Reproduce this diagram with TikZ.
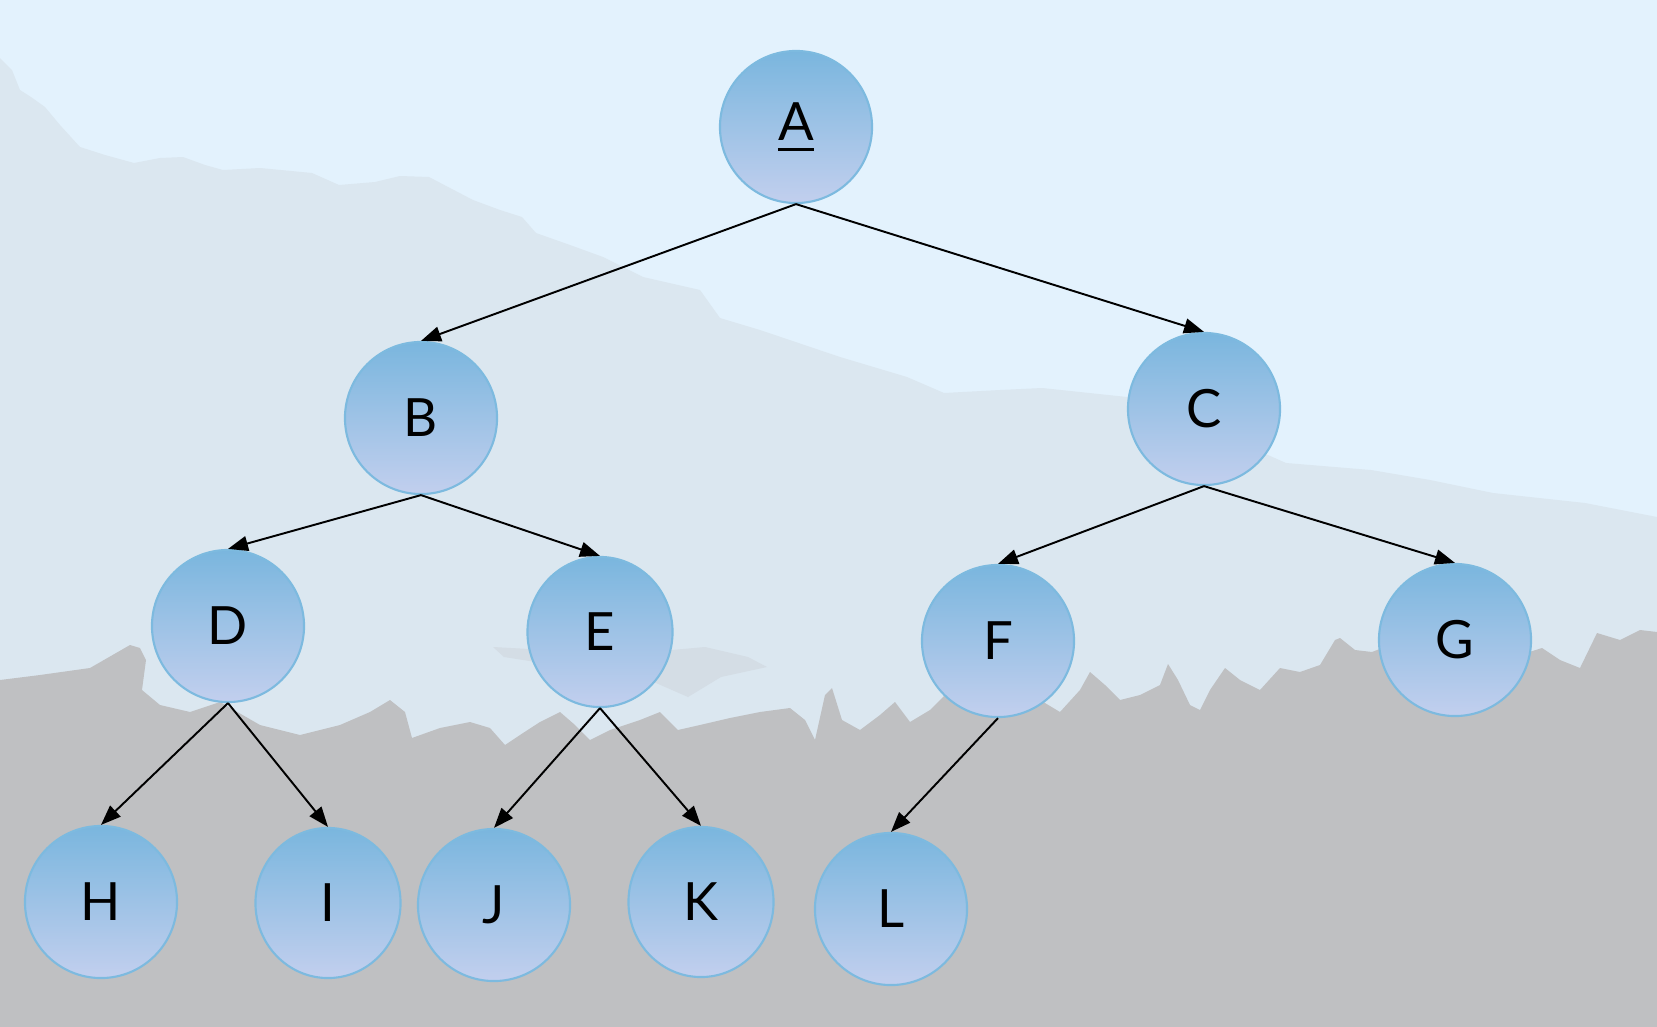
\documentclass[tikz,border=0pt]{standalone}
\usepackage{fontspec}
\setmainfont{Lato}
\usetikzlibrary{arrows.meta,shapes.geometric}
\definecolor{sky}{RGB}{227,242,253}
\definecolor{hill}{RGB}{219,231,240}
\definecolor{haze}{RGB}{212,221,229}
\definecolor{ground}{RGB}{191,192,194}
\definecolor{nodetop}{RGB}{122,182,222}
\definecolor{nodebot}{RGB}{194,207,238}
\definecolor{nodeline}{RGB}{125,186,223}
\newcommand{\rootmark}[1]{\ooalign{#1\cr\hidewidth\rule[-0.105cm]{0.36cm}{0.03cm}\hidewidth\cr}}
\begin{document}
\begin{tikzpicture}[x=0.01cm,y=-0.01cm,semithick,
  state/.style={draw=nodeline,line width=0.6pt,shape=ellipse,inner sep=0pt,minimum width=1.52cm,minimum height=1.52cm,top color=nodetop,bottom color=nodebot,font=\fontsize{15}{18}\selectfont},
  slim/.style={state,minimum width=1.45cm,minimum height=1.5cm},
  arr/.style={-{Triangle[length=0.2cm,width=0.15cm]},line width=0.55pt}]

\useasboundingbox (0,0) rectangle (1657,1027);

%background
\fill[sky] (0,0) rectangle (1657,1027);
\fill[hill] (0,58) -- (12,70) -- (20,90) -- (31,97) -- (45,107) -- (60,125) -- (80,147) -- (105,155) -- (134,163) -- (160,158) -- (183,157) -- (205,165) -- (223,170) -- (260,168) -- (312,173) -- (339,185) -- (375,182) -- (400,176) -- (429,177) -- (450,188) -- (473,200) -- (500,210) -- (522,217) -- (536,233) -- (570,245) -- (603,257) -- (643,277) -- (700,290) -- (720,318) -- (760,330) -- (840,357) -- (907,377) -- (944,393) -- (1000,390) -- (1042,388) -- (1127,397) -- (1200,425) -- (1286,463) -- (1371,470) -- (1430,480) -- (1493,493) -- (1585,503) -- (1657,517) -- (1657,1027) -- (0,1027) -- cycle;
\fill[haze] (493,647) -- (547,650) -- (600,655) -- (672,650) -- (705,647) -- (748,657) -- (767,667) -- (721,677) -- (688,697) -- (672,690) -- (656,683) -- (600,672) -- (504,657) -- cycle;
\fill[ground] (0,680) -- (40,675) -- (90,668) -- (130,645) -- (140,648) -- (146,660) -- (142,690) -- (160,705) -- (190,712) -- (220,702) -- (260,725) -- (300,735) -- (340,725) -- (370,712) -- (390,700) -- (405,712) -- (412,738) -- (440,728) -- (470,722) -- (490,728) -- (505,745) -- (520,735) -- (540,722) -- (560,712) -- (575,725) -- (590,740) -- (610,730) -- (640,720) -- (660,712) -- (678,730) -- (700,725) -- (730,718) -- (760,712) -- (790,708) -- (805,720) -- (815,740) -- (825,695) -- (832,688) -- (842,720) -- (860,730) -- (880,715) -- (895,702) -- (910,722) -- (930,710) -- (950,690) -- (968,700) -- (985,715) -- (1010,705) -- (1025,680) -- (1040,700) -- (1060,712) -- (1080,690) -- (1090,672) -- (1105,685) -- (1120,700) -- (1140,695) -- (1160,685) -- (1168,664) -- (1178,680) -- (1190,705) -- (1200,710) -- (1210,690) -- (1225,668) -- (1240,680) -- (1260,690) -- (1280,668) -- (1300,672) -- (1320,665) -- (1335,640) -- (1340,638) -- (1355,650) -- (1372,652) -- (1390,645) -- (1410,648) -- (1432,635) -- (1450,645) -- (1480,650) -- (1500,642) -- (1520,655) -- (1542,648) -- (1560,660) -- (1580,668) -- (1597,633) -- (1620,640) -- (1640,630) -- (1657,632) -- (1657,1027) -- (0,1027) -- cycle;

%tree
\node[state] (A) at (796,127) {\rootmark{A}};
\node[state] (B) at (421,418) {B};
\node[state] (C) at (1204,409) {C};
\node[state] (D) at (228,626) {D};
\node[slim] (E) at (600,632) {E};
\node[state] (F) at (998,641) {F};
\node[state] (G) at (1455,640) {G};
\node[state] (H) at (101,902) {H};
\node[slim] (I) at (328,903) {I};
\node[state] (J) at (494,905) {J};
\node[slim] (K) at (701,902) {K};
\node[state] (L) at (891,909) {L};

\draw[arr] (A.south) -- (B.north);
\draw[arr] (A.south) -- (C.north);
\draw[arr] (B.south) -- (D.north);
\draw[arr] (B.south) -- (E.north);
\draw[arr] (C.south) -- (F.north);
\draw[arr] (C.south) -- (G.north);
\draw[arr] (D.south) -- (H.north);
\draw[arr] (D.south) -- (I.north);
\draw[arr] (E.south) -- (J.north);
\draw[arr] (E.south) -- (K.north);
\draw[arr] (F.south) -- (L.north);
\end{tikzpicture}
\end{document}
